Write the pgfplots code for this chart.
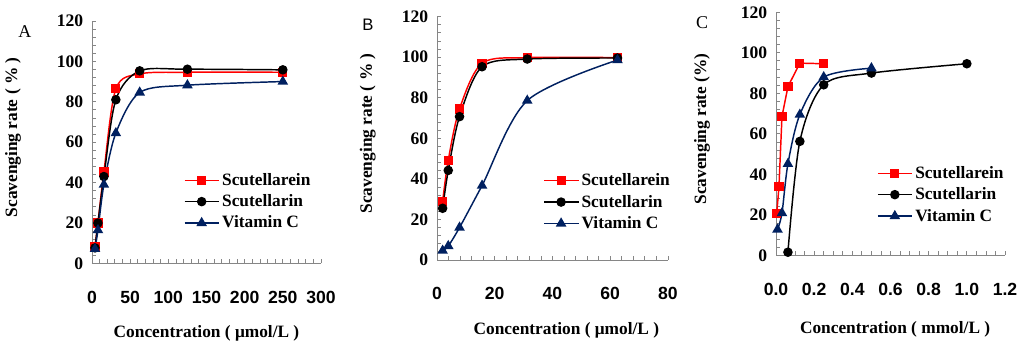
\documentclass[border=0pt]{standalone}
\usepackage{pgfplots}
\pgfplotsset{compat=1.18}
\usepackage{fontspec}
\setmainfont{Liberation Serif}
\newfontfamily\arial{Liberation Sans}
\definecolor{navy}{RGB}{0,32,96}
\definecolor{axgray}{RGB}{134,134,134}
\pgfplotsset{
 panel/.style={
  scale only axis, axis x line*=bottom, axis y line*=left,
  axis line style={axgray, line width=0.7pt},
  every tick/.style={axgray, line width=0.6pt},
  tick align=inside, major tick length=3pt, minor tick length=3pt,
  ymin=0, ymax=120, ytick={0,20,...,120}, minor y tick num=4,
  /pgf/number format/assume math mode=true,
  yticklabel style={font=\fontsize{13.2}{15}\selectfont\bfseries, xshift=-3pt},
  xticklabel style={font=\arial\fontsize{13.2}{15}\selectfont\bfseries, yshift=-17pt},
  label style={font=\fontsize{13}{15}\selectfont\bfseries},
  legend style={draw=none, fill=none, font=\fontsize{13}{15}\selectfont\bfseries, anchor=west, inner sep=0pt, row sep=1.5pt, cells={anchor=west}},
  legend image code/.code={\draw[mark repeat=2,mark phase=2,#1] plot coordinates {(0cm,0cm) (0.45cm,0cm) (0.9cm,0cm)};},
  clip=false,
 },
 s1/.style={red, line width=1.1pt, mark=square*, mark size=2.9pt, mark options={solid}},
 s2/.style={black, line width=1.1pt, mark=*, mark size=3pt, mark options={solid}},
 s3/.style={navy, line width=1.1pt, mark=triangle*, mark size=3.5pt, mark options={solid}},
}
\begin{document}
\begin{tikzpicture}
\path[use as bounding box] (0,0) rectangle (768pt,261pt);
% Panel A
\begin{axis}[panel, at={(69pt,63.4pt)}, anchor=south west, width=171.75pt, height=181.9pt,
  xmin=0, xmax=300, xtick={0,50,...,300}, minor x tick num=4,
  xlabel={Concentration ( μmol/L )}, ylabel={Scavenging rate ( \% )},
  xlabel style={at={(axis description cs:0.5,-0.288)}, anchor=center},
  ylabel style={at={(axis description cs:-0.345,0.52)}, anchor=center},
  legend style={at={(axis description cs:0.40,0.255)}}]
\addplot[s1, smooth] coordinates {(3.9,8.2) (7.8,20) (15.6,45.3) (31.25,86.4) (62.5,93.8) (125,94.6) (250,94.6)};
\addplot[s2, smooth] coordinates {(3.9,7.7) (7.8,20) (15.6,43) (31.25,81) (62.5,95.3) (125,96.1) (250,95.8)};
\addplot[s3, smooth] coordinates {(3.9,7.2) (7.8,16.5) (15.6,39) (31.25,64.5) (62.5,84.6) (125,88.2) (250,90)};
\legend{Scutellarein, Scutellarin, Vitamin C}
\node[font=\fontsize{13.5}{16}\selectfont] at (axis description cs:-0.293,0.955) {A};
\end{axis}
% Panel B
\begin{axis}[panel, at={(327.75pt,66pt)}, anchor=south west, width=173.25pt, height=182.5pt,
  xmin=0, xmax=80, xtick={0,20,...,80}, minor x tick num=4,
  xlabel={Concentration ( μmol/L )}, ylabel={Scavenging rate ( \% )},
  xlabel style={at={(axis description cs:0.56,-0.288)}, anchor=center},
  ylabel style={at={(axis description cs:-0.30,0.52)}, anchor=center},
  legend style={at={(axis description cs:0.459,0.238)}}]
\addplot[s1, smooth] coordinates {(1.95,28.8) (3.9,49.2) (7.8,74.5) (15.6,97) (31.25,99.8) (62.5,99.8)};
\addplot[s2, smooth] coordinates {(1.95,25.5) (3.9,44.2) (7.8,70.7) (15.6,95.3) (31.25,99.1) (62.5,99.6)};
\addplot[s3, smooth] coordinates {(1.95,4.6) (3.9,6.9) (7.8,16) (15.6,36.7) (31.25,78.6) (62.5,98.6)};
\legend{Scutellarein, Scutellarin, Vitamin C}
\node[font=\arial\fontsize{12.5}{15}\selectfont] at (axis description cs:-0.299,0.966) {B};
\end{axis}
% Panel C
\begin{axis}[panel, at={(582pt,69.4pt)}, anchor=south west, width=171.75pt, height=182.4pt,
  xmin=0, xmax=1.2, xtick={0,0.2,...,1.2}, minor x tick num=3,
  xticklabel style={/pgf/number format/.cd, fixed, fixed zerofill, precision=1},
  xlabel={Concentration ( mmol/L )}, ylabel={Scavenging rate (\%)},
  xlabel style={at={(axis description cs:0.52,-0.304)}, anchor=center},
  ylabel style={at={(axis description cs:-0.323,0.52)}, anchor=center},
  legend style={at={(axis description cs:0.44,0.25)}}]
\addplot[s1] coordinates {(0.0039,20.9) (0.0156,34) (0.03125,68.5) (0.0625,83.3) (0.125,94.9) (0.25,94.6)};
\addplot[s2, smooth] coordinates {(0.0625,1.6) (0.125,56.3) (0.25,84.2) (0.5,90) (1.0,94.6)};
\addplot[s3, smooth] coordinates {(0.0078,12.8) (0.03125,20.9) (0.0625,45.2) (0.125,69.5) (0.25,88) (0.5,92.4)};
\legend{Scutellarein, Scutellarin, Vitamin C}
\node[font=\fontsize{13.5}{16}\selectfont] at (axis description cs:-0.323,0.956) {C};
\end{axis}
\end{tikzpicture}
\end{document}
